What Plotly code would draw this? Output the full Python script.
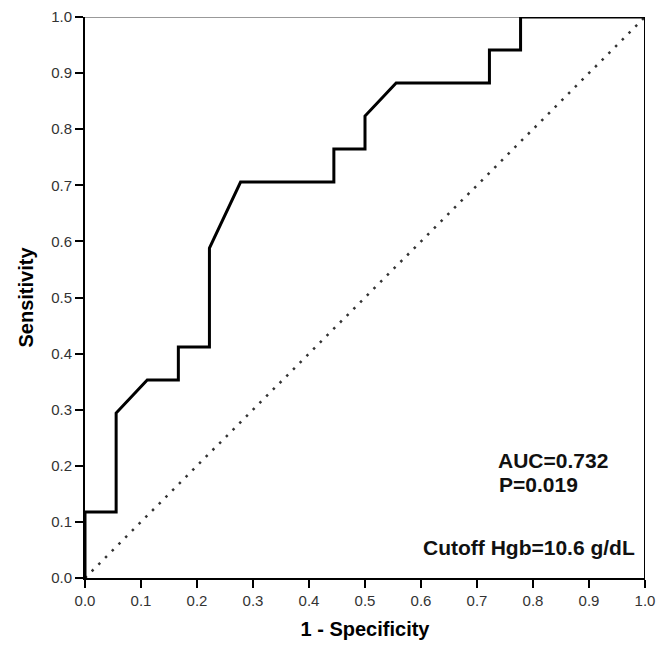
import plotly.graph_objects as go

# ROC curve points (1 - specificity, sensitivity)
fpr = [0.0, 0.0, 0.0556, 0.0556, 0.1111, 0.1667, 0.1667, 0.2222, 0.2222, 0.2778,
       0.4444, 0.4444, 0.5, 0.5, 0.5556, 0.7222, 0.7222, 0.7778, 0.7778, 1.0]
tpr = [0.0, 0.1176, 0.1176, 0.2941, 0.3529, 0.3529, 0.4118, 0.4118, 0.5882, 0.7059,
       0.7059, 0.7647, 0.7647, 0.8235, 0.8824, 0.8824, 0.9412, 0.9412, 1.0, 1.0]
ref_x = [0.0, 1.0]
ref_y = [0.0, 1.0]
tick_vals = [0.0, 0.1, 0.2, 0.3, 0.4, 0.5, 0.6, 0.7, 0.8, 0.9, 1.0]
tick_text = ["0.0", "0.1", "0.2", "0.3", "0.4", "0.5", "0.6", "0.7", "0.8", "0.9", "1.0"]
notes = ["AUC=0.732", "P=0.019", "Cutoff Hgb=10.6 g/dL"]

FONT = "Liberation Sans, Arial"

fig = go.Figure()
fig.add_trace(go.Scatter(x=ref_x, y=ref_y, mode="lines",
                         line=dict(color="#333333", width=2.5, dash="2.5px,7px"),
                         hoverinfo="skip", showlegend=False))
fig.add_trace(go.Scatter(x=fpr, y=tpr, mode="lines",
                         line=dict(color="#000000", width=3),
                         showlegend=False))

# top border (gray) and right border (black)
fig.add_shape(type="line", xref="x", yref="y", x0=-0.018, x1=1, y0=1, y1=1,
              line=dict(color="#999999", width=2), layer="below")
fig.add_shape(type="line", xref="x", yref="y", x0=1, x1=1, y0=0, y1=1,
              line=dict(color="#000000", width=2))

fig.add_annotation(x=0.734, y=0.210, xref="x", yref="y", text="<b>" + notes[0] + "</b>",
                   showarrow=False, xanchor="left", yanchor="middle",
                   font=dict(family=FONT, size=21, color="#111111"))
fig.add_annotation(x=0.736, y=0.166, xref="x", yref="y", text="<b>" + notes[1] + "</b>",
                   showarrow=False, xanchor="left", yanchor="middle",
                   font=dict(family=FONT, size=21, color="#111111"))
fig.add_annotation(x=0.600, y=0.0535, xref="x", yref="y", text="<b>" + notes[2] + "</b>",
                   showarrow=False, xanchor="left", yanchor="middle",
                   font=dict(family=FONT, size=21, color="#111111"))

axis_common = dict(
    range=[0, 1], tickvals=tick_vals, ticktext=tick_text,
    ticks="outside", ticklen=8, tickwidth=1.5, tickcolor="#000000",
    showline=True, linecolor="#000000", linewidth=2,
    showgrid=False, zeroline=False,
    tickfont=dict(family=FONT, size=15, color="#333333"),
    title_font=dict(family=FONT, size=20, color="#000000"),
)

fig.update_layout(
    width=670, height=657,
    margin=dict(l=77, r=33, t=9, b=87, autoexpand=False),
    plot_bgcolor="white", paper_bgcolor="white",
    xaxis=dict(**axis_common, title=dict(text="<b>1 - Specificity</b>", standoff=14)),
    yaxis=dict(**axis_common, title=dict(text="<b>Sensitivity</b>", standoff=12)),
)

fig.write_html("out.html")
